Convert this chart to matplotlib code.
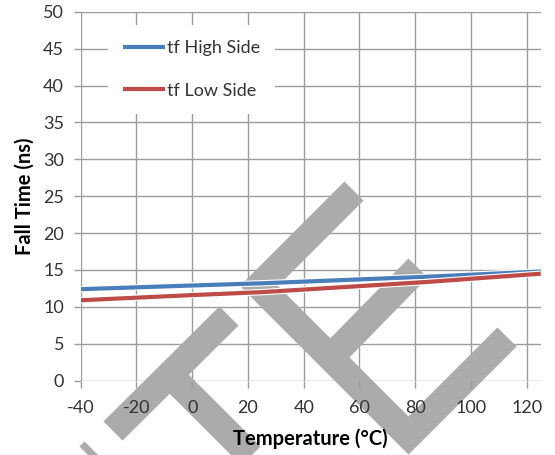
import matplotlib
matplotlib.use("Agg")
import matplotlib.pyplot as plt
import matplotlib.transforms as mtransforms
import matplotlib.patheffects as pe

plt.rcParams["font.family"] = ["Lato", "DejaVu Sans"]
plt.rcParams["axes.unicode_minus"] = False

# ===== data =====
temps = [-40, 0, 25, 85, 125]
tf_high = [12.4, 12.9, 13.2, 14.1, 14.8]
tf_low = [10.9, 11.6, 12.0, 13.4, 14.5]
series_labels = ["tf High Side", "tf Low Side"]

x_ticks = list(range(-40, 121, 20))
y_ticks = list(range(0, 51, 5))

BLUE = "#4A7EBB"
RED = "#BE4B48"
GRID = "#9C9C9C"
MARK = "#ABABAB"

W, H = 555, 455
fig = plt.figure(figsize=(W / 100, H / 100), dpi=100)
ax = fig.add_axes([80.7 / W, 1 - 380.7 / H, 460 / W, 369 / H])

ax.set_xlim(-40, 125)
ax.set_ylim(0, 50)

# grid drawn by hand so the stamp can sit over it but under the text
for xv in x_ticks:
    ax.axvline(xv, color=GRID, lw=1.0, zorder=1)
for yv in y_ticks:
    ax.axhline(yv, color=GRID, lw=1.0, zorder=1)
for s in ax.spines.values():
    s.set_visible(False)

ax.set_axisbelow(False)
ax.set_xticks(x_ticks)
ax.set_yticks(y_ticks)
ax.tick_params(axis="both", direction="out", color=GRID, width=1.0,
               labelsize=13, labelcolor="#333333")
ax.tick_params(axis="y", length=5, pad=7)
ax.tick_params(axis="x", length=5, pad=9)

ax.set_xlabel("Temperature (°C)", fontsize=14.5, fontweight="bold", labelpad=9)
ax.set_ylabel("Fall Time (ns)", fontsize=14.5, fontweight="bold", labelpad=6)

# ===== stamp overlay (pixel coords, y down) =====
px = mtransforms.Affine2D().scale(1 / W, -1 / H).translate(0, 1) + fig.transFigure
stamp = [
    [(354, 191), (259, 286), (408.5, 435.5), (507, 337)],
    [(418, 268), (330.5, 357.5)],
    [(229, 316), (113, 431)],
    [(170, 375), (270, 475)],
    [(94, 451), (60, 485)],
]
for path in stamp:
    xs, ys = zip(*path)
    ax.plot(xs, ys, transform=px, color=MARK, lw=27 * 0.72,
            solid_joinstyle="miter", solid_capstyle="butt",
            clip_on=False, zorder=2)

# ===== series =====
halo = [pe.Stroke(linewidth=4.6, foreground="white"), pe.Normal()]
ax.plot(temps, tf_high, color=BLUE, lw=3.0, label=series_labels[0],
        zorder=3, path_effects=halo, solid_capstyle="butt")
ax.plot(temps, tf_low, color=RED, lw=3.0, label=series_labels[1],
        zorder=3, path_effects=halo, solid_capstyle="butt")

leg = ax.legend(loc="upper left", bbox_to_anchor=((108 - 80.7) / 460, 1 - (25 - 11.7) / 369),
                borderaxespad=0, frameon=True, fancybox=False, fontsize=13,
                handlelength=2.3, handletextpad=0.1, labelspacing=1.45,
                borderpad=0.85)
leg.get_frame().set_facecolor("white")
leg.get_frame().set_edgecolor("none")
leg.get_frame().set_alpha(1)
for t in leg.get_texts():
    t.set_color("#333333")
leg.set_zorder(5)

fig.savefig("out.png", dpi=100)
